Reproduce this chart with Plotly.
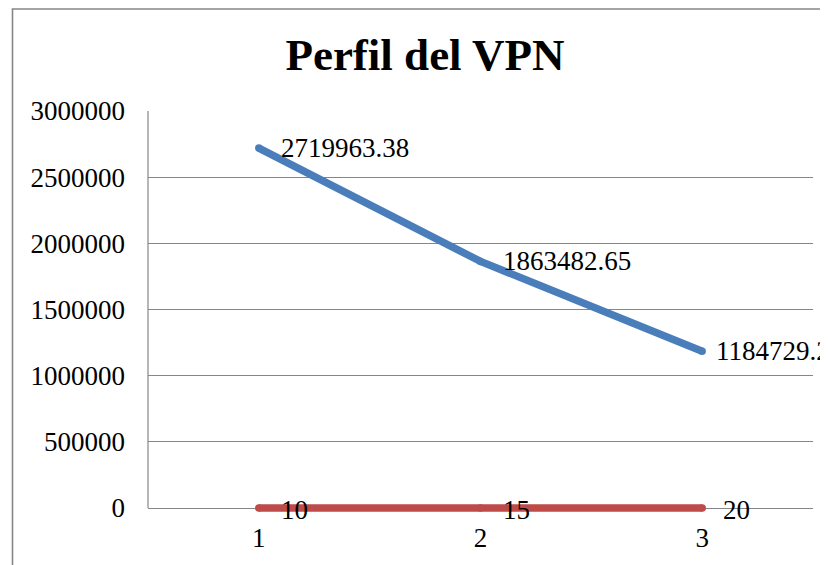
import plotly.graph_objects as go

# ---- data ----
categories = ["1", "2", "3"]
vpn_values = [2719963.38, 1863482.65, 1184729.27]
vpn_labels = ["2719963.38", "1863482.65", "1184729.27"]
rate_values = [10, 15, 20]
rate_labels = ["10", "15", "20"]
y_tick_values = [0, 500000, 1000000, 1500000, 2000000, 2500000, 3000000]
y_tick_labels = ["0", "500000", "1000000", "1500000", "2000000", "2500000", "3000000"]
title_text = "Perfil del VPN"

# ---- style / layout ----
# the page body adds an 8px offset, so the figure is 8px smaller than the window
W, H = 820, 557
L, R, T, B = 140, 15, 103, 50
plot_w = W - L - R
plot_h = H - T - B
Y_MAX = 3000000
pad_px = 5
Y_MIN = -Y_MAX * pad_px / (plot_h - pad_px)

FONT = "Liberation Serif"
GRID = "#868686"
BLUE = "#4A7EBB"
RED = "#BE4B48"

# horizontal offsets (px) of the data labels from their points
vpn_label_shift = [20, 20, 12]
rate_label_shift = [20, 20, 19]


def px_x(px):
    return (px - L) / plot_w


def px_y(py):
    return (H - B - py) / plot_h


fig = go.Figure()
fig.add_trace(go.Scatter(
    x=categories, y=vpn_values, mode="lines+markers",
    line=dict(color=BLUE, width=7.5),
    marker=dict(color=BLUE, size=7.5),
    cliponaxis=False, hoverinfo="skip", showlegend=False,
))
fig.add_trace(go.Scatter(
    x=categories, y=rate_values, mode="lines+markers",
    line=dict(color=RED, width=7.5),
    marker=dict(color=RED, size=7.5),
    cliponaxis=False, hoverinfo="skip", showlegend=False,
))

annotations = []
for series_vals, series_labels, shifts, yshift in (
        (vpn_values, vpn_labels, vpn_label_shift, 0),
        (rate_values, rate_labels, rate_label_shift, -2)):
    for i, (val, lab, sh) in enumerate(zip(series_vals, series_labels, shifts)):
        annotations.append(dict(
            x=i, y=val, xref="x", yref="y", text=lab, showarrow=False,
            xanchor="left", yanchor="middle", xshift=sh, yshift=yshift,
            font=dict(family=FONT, size=27, color="black"),
        ))

shapes = [
    # y axis line
    dict(type="line", xref="paper", yref="y", x0=0, x1=0, y0=0, y1=Y_MAX,
         line=dict(color=GRID, width=1.2), layer="above"),
    # chart border
    dict(type="rect", xref="paper", yref="paper",
         x0=px_x(4.5), x1=px_x(900), y0=px_y(0.5), y1=px_y(700),
         line=dict(color=GRID, width=1.6), fillcolor="rgba(0,0,0,0)", layer="below"),
]

fig.update_layout(
    width=W, height=H,
    margin=dict(l=L, r=R, t=T, b=B, pad=0),
    paper_bgcolor="white", plot_bgcolor="white",
    title=dict(text="<b>" + title_text + "</b>", xref="container", yref="container",
               x=417 / W, xanchor="center", y=1 - 46 / H, yanchor="middle",
               font=dict(family=FONT, size=45, color="black")),
    xaxis=dict(type="category", range=[-0.5, 2.5], showline=False, showgrid=False,
               zeroline=False, ticks="", ticklabelstandoff=6,
               tickfont=dict(family=FONT, size=27, color="black")),
    yaxis=dict(range=[Y_MIN, Y_MAX], tickvals=y_tick_values, ticktext=y_tick_labels,
               showgrid=True, gridcolor=GRID, gridwidth=1.2, zeroline=False,
               showline=False, ticks="", ticklabelstandoff=22,
               tickfont=dict(family=FONT, size=27, color="black")),
    annotations=annotations,
    shapes=shapes,
    font=dict(family=FONT),
)

fig.write_html("out.html")
